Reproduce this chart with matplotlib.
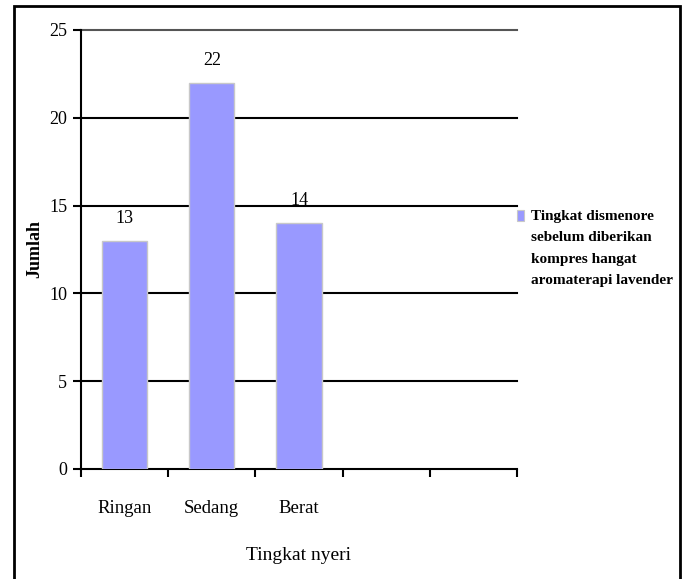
import matplotlib
matplotlib.use("Agg")
import matplotlib.pyplot as plt
from matplotlib.patches import Rectangle

# data
categories = ["Ringan", "Sedang", "Berat", "", ""]
values = [13, 22, 14]
yticks = [0, 5, 10, 15, 20, 25]
series_name = "Tingkat dismenore\nsebelum diberikan\nkompres hangat\naromaterapi lavender"
bar_color = "#9999ff"

plt.rcParams["font.family"] = ["Liberation Serif", "DejaVu Serif"]

fig = plt.figure(figsize=(6.87, 5.79), dpi=100)
ax = fig.add_axes([0.1179, 0.19, 0.6346, 0.7582])

# outer frame (bottom runs off the image)
fig.patches.append(Rectangle((14 / 687, -0.05), 666 / 687, 1 - 6 / 579 + 0.05,
                             transform=fig.transFigure, fill=False,
                             edgecolor="black", linewidth=2))

xpos = list(range(len(values)))
ax.bar(xpos, values, width=0.52, color=bar_color, edgecolor="#c8c8c8",
       linewidth=1, zorder=3)
for x, v in zip(xpos, values):
    ax.annotate(str(v), (x, v), xytext=(0, 16), textcoords="offset points",
                ha="center", va="center", fontsize=13)

ax.set_xlim(-0.5, len(categories) - 0.5)
ax.set_ylim(0, 25)
ax.set_yticks(yticks)
ax.set_yticklabels([str(t) for t in yticks], fontsize=13)
ax.set_xticks(range(len(categories)))
ax.set_xticklabels(categories, fontsize=13.5)
ax.set_xticks([i - 0.5 for i in range(len(categories) + 1)], minor=True)
ax.tick_params(axis="x", which="major", length=0, pad=22)
ax.tick_params(axis="x", which="minor", length=6, width=1.5, direction="out")
ax.tick_params(axis="y", length=6, width=1.5, direction="out", pad=4)

for t in yticks[1:]:
    ax.axhline(t, color="black" if t < 25 else "#555555", linewidth=1.5,
               zorder=1, clip_on=False)

for s in ["top", "right"]:
    ax.spines[s].set_visible(False)
ax.spines["left"].set_linewidth(1.5)
ax.spines["bottom"].set_linewidth(1.5)

ax.set_ylabel("Jumlah", fontsize=13, fontweight="bold", labelpad=4)
ax.set_xlabel("Tingkat nyeri", fontsize=14, labelpad=22)

# legend drawn by hand so the swatch sits beside the first line
ax.add_patch(Rectangle((1.0, 0.565), 0.016, 0.025, transform=ax.transAxes,
                       facecolor=bar_color, edgecolor="#c8c8c8", linewidth=0.8,
                       clip_on=False))
ax.text(1.032, 0.59, series_name, transform=ax.transAxes, ha="left", va="top",
        fontsize=11, fontweight="bold", linespacing=1.85)

plt.savefig("out.png", dpi=100)
